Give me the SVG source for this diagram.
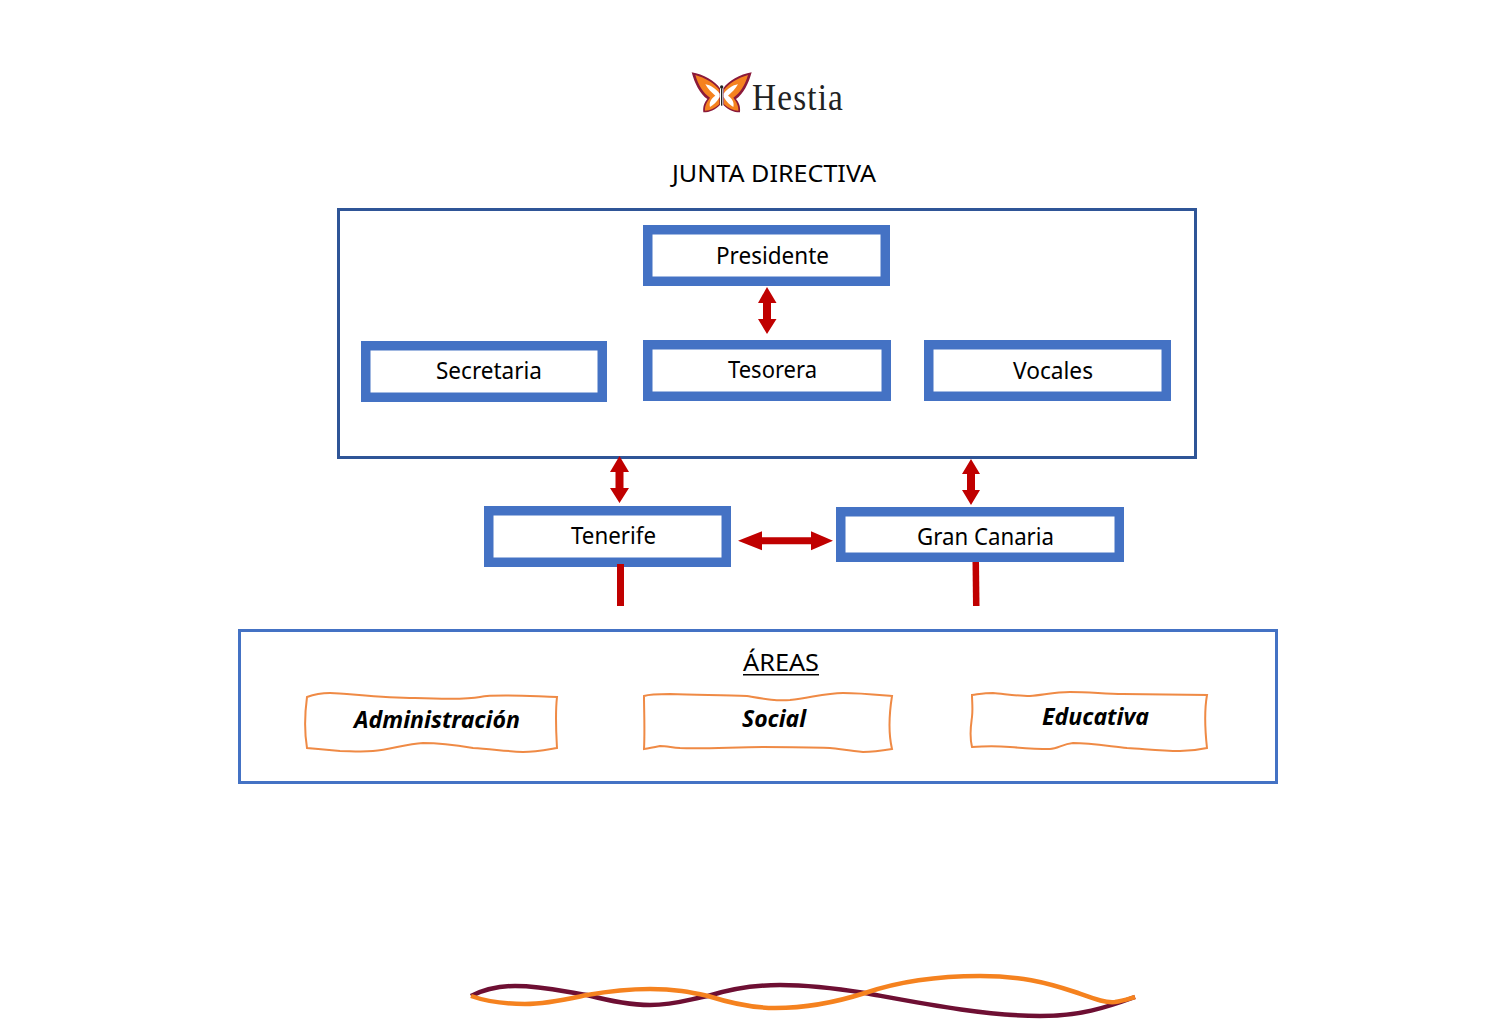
<svg xmlns="http://www.w3.org/2000/svg" width="1500" height="1036" viewBox="0 0 1500 1036">
<style>
.t{font-family:"Noto Sans","Open Sans","DejaVu Sans",sans-serif;font-size:23px;fill:#000}
.b{font-family:"Noto Sans","Open Sans","DejaVu Sans",sans-serif;font-size:23px;font-weight:700;font-style:italic;fill:#000}
.box{fill:#fff;stroke:#4472c4;stroke-width:9.5}
.wavy{fill:#fff;stroke:#ed7d31;stroke-width:2;stroke-opacity:.9}
.red{fill:#c00000}
.wave{fill:none;stroke-width:4.5;stroke-linecap:butt}
</style>
<defs>
<g id="wing">
<path d="M65,52C100,58 135,78 150,100L150,150C135,165 120,172 100,172C98,152 104,142 112,132C90,118 74,85 65,52Z" fill="#8b1a3a"/>
<path d="M76,60C105,68 134,86 148,104L148,148C134,160 120,167 105,167C104,152 110,142 120,128C100,115 85,90 76,60Z" fill="#f5821f"/>
<path d="M106,88C122,90 138,102 149,116L149,126C140,142 130,150 120,156C116,142 124,130 136,122C124,112 114,102 106,88Z" fill="#fff"/>
</g>
</defs>
<rect width="1500" height="1036" fill="#fff"/>

<g id="logo">
<g transform="translate(670,55) scale(.33333)">
<use href="#wing"/>
<use href="#wing" transform="translate(310,0) scale(-1,1)"/>
<rect x="153" y="100" width="4" height="52" fill="#222"/>
<circle cx="155" cy="96" r="5" fill="#222"/>
</g>
<text transform="translate(752,110) scale(.9,1)" font-family="Liberation Serif,serif" font-size="37" letter-spacing="1.300" fill="#222">Hestia</text>
</g>

<g id="title"><text class="t" x="672" y="182" textLength="204" lengthAdjust="spacingAndGlyphs">JUNTA DIRECTIVA</text></g>

<g id="junta-frame"><rect x="338.500" y="209.500" width="857" height="248" fill="#fff" stroke="#2f5597" stroke-width="3"/></g>

<g id="presidente"><rect class="box" x="647.750" y="229.750" width="237.500" height="51.500"/><text class="t" x="716" y="264" textLength="113" lengthAdjust="spacingAndGlyphs">Presidente</text></g>
<g id="secretaria"><rect class="box" x="365.750" y="345.750" width="236.500" height="51.500"/><text class="t" x="436" y="379" textLength="106" lengthAdjust="spacingAndGlyphs">Secretaria</text></g>
<g id="tesorera"><rect class="box" x="647.750" y="344.750" width="238.500" height="51.500"/><text class="t" x="728" y="378" textLength="89" lengthAdjust="spacingAndGlyphs">Tesorera</text></g>
<g id="vocales"><rect class="box" x="928.750" y="344.750" width="237.500" height="51.500"/><text class="t" x="1013" y="379" textLength="80" lengthAdjust="spacingAndGlyphs">Vocales</text></g>
<g id="tenerife"><rect class="box" x="488.750" y="510.750" width="237.500" height="51.500"/><text class="t" x="571" y="544" textLength="85" lengthAdjust="spacingAndGlyphs">Tenerife</text></g>
<g id="gran-canaria"><rect class="box" x="840.750" y="511.750" width="278.500" height="45.500"/><text class="t" x="917" y="544.500" textLength="137" lengthAdjust="spacingAndGlyphs">Gran Canaria</text></g>

<g id="connectors">
<polygon class="red" points="767,287 776.500,303 771,303 771,319 776.500,319 767,334 758,319 763,319 763,303 758,303"/>
<polygon class="red" points="619.500,456 629,472 623.500,472 623.500,488 629,488 619.500,503 610,488 615.500,488 615.500,472 610,472"/>
<polygon class="red" points="971,459 980,474 975,474 975,490 980,490 971,505 962,490 967,490 967,474 962,474"/>
<polygon class="red" points="738,540.700 762,531.200 762,537.200 811,537.200 811,531.200 833,540.700 811,550.200 811,544.200 762,544.200 762,550.200"/>
<polygon class="red" points="617,564 624,564 624,606 617,606"/>
<polygon class="red" points="972.500,562 979,562 979.500,606 973,606"/>
</g>

<g id="areas-frame"><rect x="239.500" y="630.500" width="1037" height="152" fill="#fff" stroke="#4472c4" stroke-width="3"/></g>
<g id="areas-title"><text class="t" x="743" y="671" textLength="76" lengthAdjust="spacingAndGlyphs">ÁREAS</text><rect x="743" y="674" width="76" height="1.500" fill="#000"/></g>

<g id="administracion">
<path class="wavy" d="M307,697C315,694 323,693 330,693C345,693 380,698 415,698C440,699 465,700 480,697C495,694 525,696 557,697C555,715 556,730 557,748C545,750 535,752 523,752C505,751 490,749 473,748C455,745 440,743 423,743C405,744 390,750 373,751C360,752 350,751 340,751C330,750 318,749 307,748C304,730 305,712 307,697Z"/>
<text class="b" x="354" y="728" textLength="166" lengthAdjust="spacingAndGlyphs">Administración</text>
</g>
<g id="social">
<path class="wavy" d="M644,696C650,694 660,694 670,694C700,695 725,695 747,696C765,699 775,701 790,700C810,698 825,693 843,693C860,693 880,695 892,696C889,715 888,732 892,749C880,751 870,752 863,752C850,751 840,749 830,748C805,747 785,747 763,747C735,747 705,749 680,748C670,747 665,746 660,746C655,747 650,748 644,749C645,730 644,712 644,696Z"/>
<text class="b" x="742" y="727" textLength="64" lengthAdjust="spacingAndGlyphs">Social</text>
</g>
<g id="educativa">
<path class="wavy" d="M972,695C980,694 985,693 993,693C1005,694 1018,696 1030,696C1043,695 1055,692 1070,692C1090,692 1105,694 1123,694L1207,695C1204,712 1205,730 1207,748C1198,750 1190,751 1180,751C1160,751 1145,749 1127,748C1108,746 1090,743 1073,743C1062,744 1058,749 1050,749C1035,749 1022,748 1010,747C998,746 985,746 972,747C969,735 971,725 972,717C973,708 972,702 972,695Z"/>
<text class="b" x="1042" y="725" textLength="107" lengthAdjust="spacingAndGlyphs">Educativa</text>
</g>

<g id="footer-wave">
<path class="wave" stroke="#6e0f33" d="M471,996C485,989 500,986 515,986C545,986 565,992 587,995C610,1001 630,1005 650,1005C675,1005 690,999 708,996C730,989 755,985 780,985C810,985 840,989 865,993C920,1003 985,1016 1040,1016C1080,1016 1105,1008 1135,997"/>
<path class="wave" stroke="#f5821f" d="M471,996C488,1002 505,1004 525,1004C548,1004 568,999 587,995C610,991 630,989 650,989C675,989 690,992 708,996C730,1003 750,1008 775,1008C810,1008 840,1001 865,993C900,981 940,976 980,976C1020,976 1045,982 1075,992C1095,999 1105,1003 1115,1002C1122,1001 1128,999 1135,997"/>
</g>
</svg>
